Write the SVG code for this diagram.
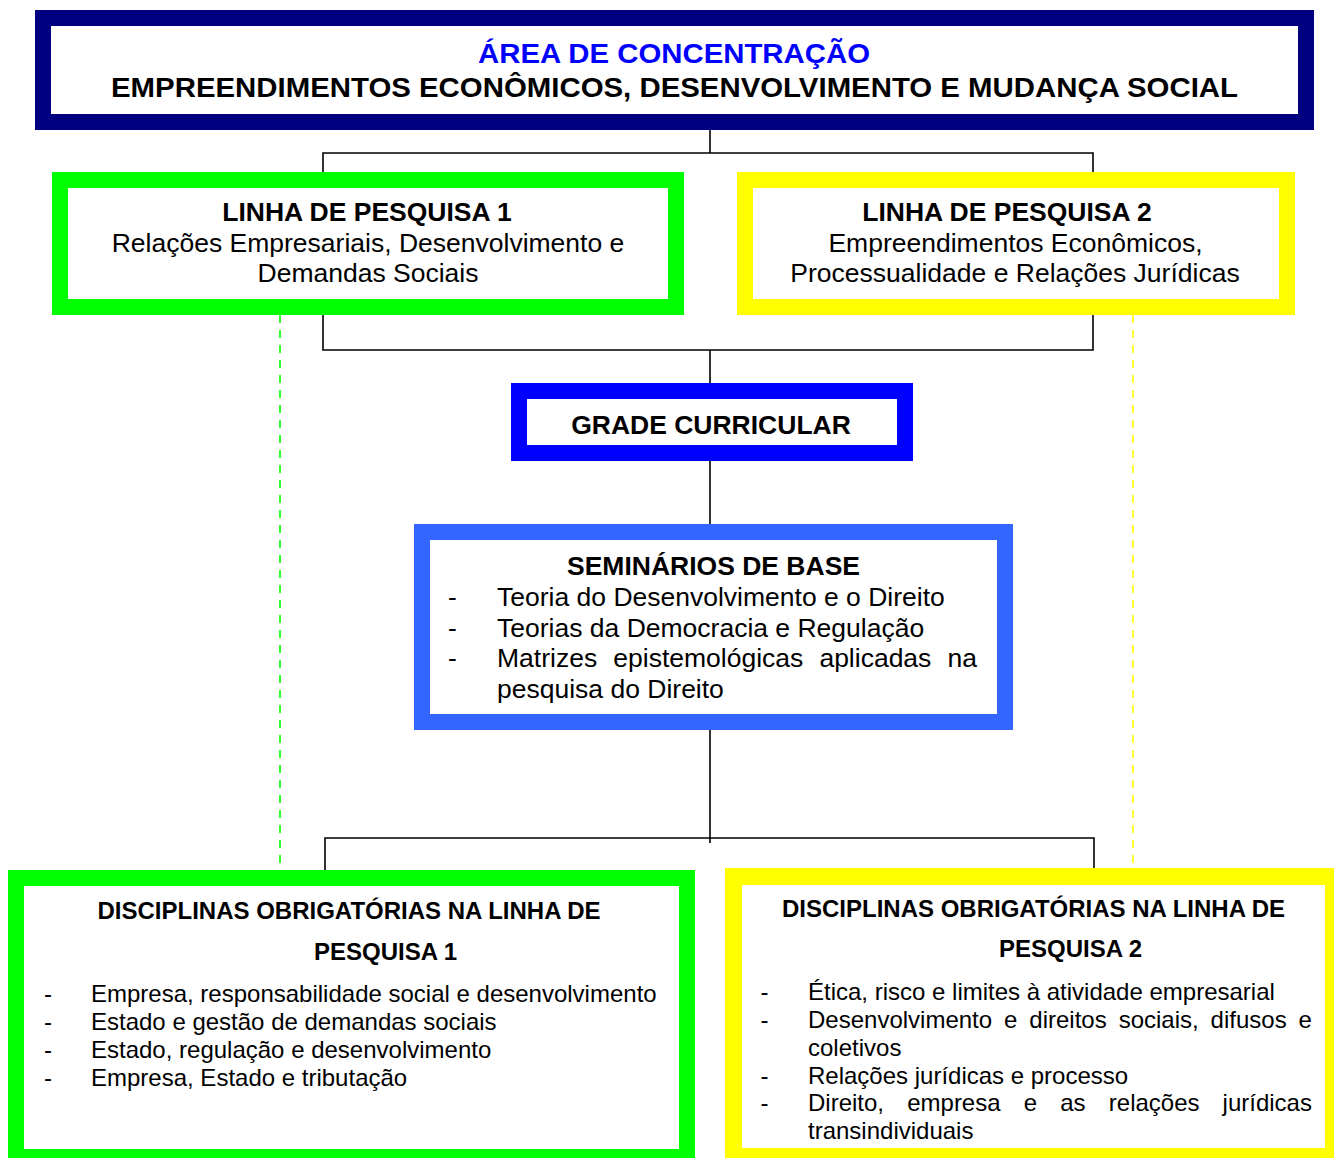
<svg xmlns="http://www.w3.org/2000/svg" width="1334" height="1158" viewBox="0 0 1334 1158">
<style>
text{font-family:"Liberation Sans",Arial,Helvetica,sans-serif;fill:#000}
.b{font-weight:bold}
.t{font-size:26.5px}
.s{font-size:24px}
.mid{text-anchor:middle}
.box{fill:#fff}
.ln{stroke:#000;stroke-width:1.6;fill:none}
.dash{stroke-width:1.6;fill:none;stroke-dasharray:8 7}
</style>
<rect width="1334" height="1158" fill="#fff"/>
<g id="connectors">
<path class="ln" d="M710 130V153M323 172V153H1093V172"/>
<path class="ln" d="M323 315V350H1093V315M710 350V391"/>
<path class="ln" d="M710 453V524"/>
<path class="ln" d="M710 730V843M325 870V838H1094V868"/>
<line class="dash" x1="280" y1="315" x2="280" y2="870" stroke="#00FF00"/>
<line class="dash" x1="1133" y1="315" x2="1133" y2="868" stroke="#FFFF00"/>
</g>
<g id="area">
<rect class="box" x="43" y="18" width="1263" height="104" stroke="#000080" stroke-width="16"/>
<text class="b mid" x="674" y="63" font-size="27" fill="#0000FF" style="fill:#0000FF" textLength="392" lengthAdjust="spacingAndGlyphs">ÁREA DE CONCENTRAÇÃO</text>
<text class="b mid" x="674.5" y="97" font-size="27" textLength="1127" lengthAdjust="spacingAndGlyphs">EMPREENDIMENTOS ECONÔMICOS, DESENVOLVIMENTO E MUDANÇA SOCIAL</text>
</g>
<g id="linha1">
<rect class="box" x="60" y="180" width="616" height="127" stroke="#00FF00" stroke-width="16"/>
<text class="b t mid" x="367" y="221">LINHA DE PESQUISA 1</text>
<text class="t mid" x="368" y="251.5">Relações Empresariais, Desenvolvimento e</text>
<text class="t mid" x="368" y="282">Demandas Sociais</text>
</g>
<g id="linha2">
<rect class="box" x="745" y="180" width="542" height="127" stroke="#FFFF00" stroke-width="16"/>
<text class="b t mid" x="1007" y="221">LINHA DE PESQUISA 2</text>
<text class="t mid" x="1015.5" y="251.5">Empreendimentos Econômicos,</text>
<text class="t mid" x="1015" y="282">Processualidade e Relações Jurídicas</text>
</g>
<g id="grade">
<rect class="box" x="519" y="391" width="386" height="62" stroke="#0000FF" stroke-width="16"/>
<text class="b t mid" x="711" y="434">GRADE CURRICULAR</text>
</g>
<g id="seminarios">
<rect class="box" x="422" y="532" width="583" height="190" stroke="#3366FF" stroke-width="16"/>
<text class="b t mid" x="713.5" y="575">SEMINÁRIOS DE BASE</text>
<text class="t" x="448" y="606">-</text>
<text class="t" x="497" y="606">Teoria do Desenvolvimento e o Direito</text>
<text class="t" x="448" y="636.5">-</text>
<text class="t" x="497" y="636.5">Teorias da Democracia e Regulação</text>
<text class="t" x="448" y="667">-</text>
<text class="t" y="667"><tspan x="497">Matrizes</tspan> <tspan x="613.3">epistemológicas</tspan> <tspan x="819.4">aplicadas</tspan> <tspan x="947.5">na</tspan></text>
<text class="t" x="497" y="697.5">pesquisa do Direito</text>
</g>
<g id="disciplinas1">
<rect class="box" x="16" y="878" width="671" height="279" stroke="#00FF00" stroke-width="16"/>
<text class="b s" x="97.5" y="919">DISCIPLINAS OBRIGATÓRIAS NA LINHA DE</text>
<text class="b s" x="314" y="960">PESQUISA 1</text>
<text class="s" x="44" y="1002">-</text>
<text class="s" x="91" y="1002">Empresa, responsabilidade social e desenvolvimento</text>
<text class="s" x="44" y="1030">-</text>
<text class="s" x="91" y="1030">Estado e gestão de demandas sociais</text>
<text class="s" x="44" y="1058">-</text>
<text class="s" x="91" y="1058">Estado, regulação e desenvolvimento</text>
<text class="s" x="44" y="1086">-</text>
<text class="s" x="91" y="1086">Empresa, Estado e tributação</text>
</g>
<g id="disciplinas2">
<rect class="box" x="733.5" y="876.5" width="600" height="280" stroke="#FFFF00" stroke-width="17"/>
<text class="b s" x="782" y="917">DISCIPLINAS OBRIGATÓRIAS NA LINHA DE</text>
<text class="b s" x="999" y="957">PESQUISA 2</text>
<text class="s" x="760.5" y="1000">-</text>
<text class="s" x="808" y="1000">Ética, risco e limites à atividade empresarial</text>
<text class="s" x="760.5" y="1028">-</text>
<text class="s" y="1028"><tspan x="808">Desenvolvimento</tspan> <tspan x="1004">e</tspan> <tspan x="1029.3">direitos</tspan> <tspan x="1118.7">sociais,</tspan> <tspan x="1210.6">difusos</tspan> <tspan x="1298.6">e</tspan></text>
<text class="s" x="808" y="1056">coletivos</text>
<text class="s" x="760.5" y="1084">-</text>
<text class="s" x="808" y="1084">Relações jurídicas e processo</text>
<text class="s" x="760.5" y="1111">-</text>
<text class="s" y="1111"><tspan x="808">Direito,</tspan> <tspan x="907.2">empresa</tspan> <tspan x="1023.7">e</tspan> <tspan x="1060.2">as</tspan> <tspan x="1108.8">relações</tspan> <tspan x="1222.6">jurídicas</tspan></text>
<text class="s" x="808" y="1139">transindividuais</text>
</g>
</svg>
